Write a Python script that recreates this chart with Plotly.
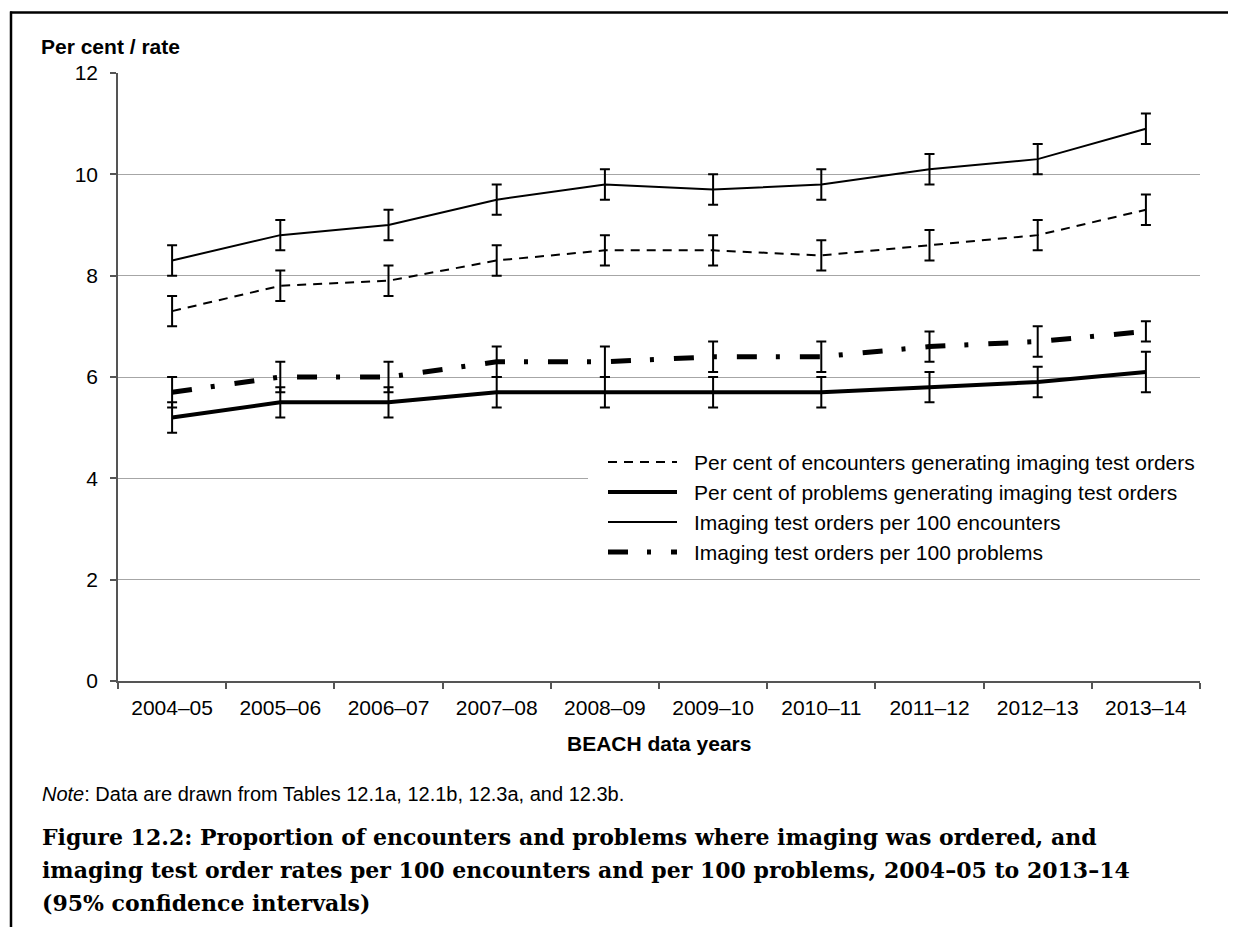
import plotly.graph_objects as go

# ---------------- data ----------------
years = ["2004–05", "2005–06", "2006–07", "2007–08", "2008–09",
         "2009–10", "2010–11", "2011–12", "2012–13", "2013–14"]

enc_pct = [7.3, 7.8, 7.9, 8.3, 8.5, 8.5, 8.4, 8.6, 8.8, 9.3]
enc_pct_lo = [7.0, 7.5, 7.6, 8.0, 8.2, 8.2, 8.1, 8.3, 8.5, 9.0]
enc_pct_hi = [7.6, 8.1, 8.2, 8.6, 8.8, 8.8, 8.7, 8.9, 9.1, 9.6]

prob_pct = [5.2, 5.5, 5.5, 5.7, 5.7, 5.7, 5.7, 5.8, 5.9, 6.1]
prob_pct_lo = [4.9, 5.2, 5.2, 5.4, 5.4, 5.4, 5.4, 5.5, 5.6, 5.7]
prob_pct_hi = [5.5, 5.8, 5.8, 6.0, 6.0, 6.0, 6.0, 6.1, 6.2, 6.5]

enc_rate = [8.3, 8.8, 9.0, 9.5, 9.8, 9.7, 9.8, 10.1, 10.3, 10.9]
enc_rate_lo = [8.0, 8.5, 8.7, 9.2, 9.5, 9.4, 9.5, 9.8, 10.0, 10.6]
enc_rate_hi = [8.6, 9.1, 9.3, 9.8, 10.1, 10.0, 10.1, 10.4, 10.6, 11.2]

prob_rate = [5.7, 6.0, 6.0, 6.3, 6.3, 6.4, 6.4, 6.6, 6.7, 6.9]
prob_rate_lo = [5.4, 5.7, 5.7, 6.0, 6.0, 6.1, 6.1, 6.3, 6.4, 6.7]
prob_rate_hi = [6.0, 6.3, 6.3, 6.6, 6.6, 6.7, 6.7, 6.9, 7.0, 7.1]

series_names = [
    "Per cent of encounters generating imaging test orders",
    "Per cent of problems generating imaging test orders",
    "Imaging test orders per 100 encounters",
    "Imaging test orders per 100 problems",
]
y_ticks = [0, 2, 4, 6, 8, 10, 12]

# ---------------- layout geometry (page pixel coords) ----------------
BODY = 8                      # default page margin around the plot div
W, H = 1236 - BODY, 927 - BODY
PL, PR, PT, PB = 118, 1200, 73, 681


def px(x):
    return (x - PL) / (PR - PL)


def py(y):
    return (PB - y) / (PB - PT)


SANS = "Liberation Sans, Arial, sans-serif"
SERIF = "DejaVu Serif, Palatino Linotype, serif"

styles = [
    dict(width=2, dash="9px,7px"),
    dict(width=4, dash="solid"),
    dict(width=2, dash="solid"),
    dict(width=5, dash="20px,19px,4px,20px"),
]
vals = [(enc_pct, enc_pct_lo, enc_pct_hi),
        (prob_pct, prob_pct_lo, prob_pct_hi),
        (enc_rate, enc_rate_lo, enc_rate_hi),
        (prob_rate, prob_rate_lo, prob_rate_hi)]

fig = go.Figure()
for name, st, (v, lo, hi) in zip(series_names, styles, vals):
    fig.add_trace(go.Scatter(
        x=years, y=v, name=name, mode="lines",
        line=dict(color="black", width=st["width"], dash=st["dash"]),
        error_y=dict(type="data", symmetric=False,
                     array=[h - a for h, a in zip(hi, v)],
                     arrayminus=[a - l for a, l in zip(v, lo)],
                     color="black", thickness=2, width=5),
        showlegend=False,
    ))

shapes = []
annotations = []

# legend background (covers gridline)
shapes.append(dict(type="rect", xref="paper", yref="paper",
                   x0=px(588), x1=px(1200), y0=py(448), y1=py(568),
                   fillcolor="white", line=dict(width=0), layer="above"))
leg_rows = [462, 492, 522, 552]
for name, st, ry in zip(series_names, styles, leg_rows):
    shapes.append(dict(type="line", xref="paper", yref="paper",
                       x0=px(608), x1=px(677), y0=py(ry), y1=py(ry),
                       line=dict(color="black", width=st["width"], dash=st["dash"]),
                       layer="above"))
    annotations.append(dict(text=name, xref="paper", yref="paper",
                            x=px(692), y=py(ry), xanchor="left", yanchor="middle",
                            showarrow=False, font=dict(family=SANS, size=21, color="black")))

# frame lines (top and left)
shapes.append(dict(type="line", xref="paper", yref="paper",
                   x0=px(10), x1=px(1240), y0=py(12.5), y1=py(12.5),
                   line=dict(color="black", width=2.5), layer="above"))
shapes.append(dict(type="line", xref="paper", yref="paper",
                   x0=px(11), x1=px(11), y0=py(11.5), y1=py(935),
                   line=dict(color="black", width=2.5), layer="above"))

# axis titles
annotations.append(dict(text="<b>Per cent / rate</b>", xref="paper", yref="paper",
                        x=px(39), y=py(46), xanchor="left", yanchor="middle",
                        showarrow=False, font=dict(family=SANS, size=21, color="black")))
annotations.append(dict(text="<b>BEACH data years</b>", xref="paper", yref="paper",
                        x=px(659), y=py(743), xanchor="center", yanchor="middle",
                        showarrow=False, font=dict(family=SANS, size=21, color="black")))
# note
annotations.append(dict(text="<i>Note</i>: Data are drawn from Tables 12.1a, 12.1b, 12.3a, and 12.3b.",
                        xref="paper", yref="paper", x=px(40), y=py(794),
                        xanchor="left", yanchor="middle", showarrow=False,
                        font=dict(family=SANS, size=20, color="black")))
# caption
cap_lines = [
    "Figure 12.2: Proportion of encounters and problems where imaging was ordered, and",
    "imaging test order rates per 100 encounters and per 100 problems, 2004–05 to 2013–14",
    "(95% confidence intervals)",
]
for line, cy in zip(cap_lines, [837, 870, 903]):
    annotations.append(dict(text="<b>" + line + "</b>", xref="paper", yref="paper",
                            x=px(40), y=py(cy), xanchor="left", yanchor="middle",
                            showarrow=False, font=dict(family=SERIF, size=22, color="black")))

fig.update_layout(
    width=W, height=H, autosize=False,
    margin=dict(l=PL - BODY, r=(1236 - BODY) - (PR - BODY), t=PT - BODY, b=(927 - BODY) - (PB - BODY)),
    paper_bgcolor="white", plot_bgcolor="white",
    showlegend=False,
    shapes=shapes, annotations=annotations,
    font=dict(family=SANS, size=21, color="black"),
)
fig.update_xaxes(
    type="category", range=[-0.5, 9.5], tickson="boundaries",
    ticks="outside", ticklen=6, tickcolor="#555555", tickwidth=1.5,
    showline=True, linecolor="#555555", linewidth=1.5,
    showgrid=False, zeroline=False,
    tickfont=dict(family=SANS, size=21, color="black"),
    ticklabelstandoff=7, fixedrange=True,
)
fig.update_yaxes(
    range=[0, 12], tickvals=y_ticks, ticks="outside", ticklen=6,
    tickcolor="#555555", tickwidth=1.5,
    showline=True, linecolor="#555555", linewidth=1.5,
    showgrid=True, gridcolor="#a6a6a6", gridwidth=1, zeroline=False,
    tickfont=dict(family=SANS, size=21, color="black"),
    ticklabelstandoff=8, fixedrange=True,
)

fig.write_html("out.html")
